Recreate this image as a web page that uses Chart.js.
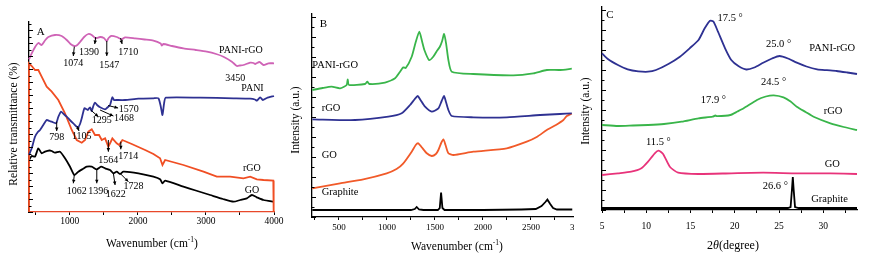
<!DOCTYPE html>
<html lang="en">
<head>
<meta charset="UTF-8">
<title>FTIR / Raman / XRD</title>
<script src="https://cdn.jsdelivr.net/npm/chart.js"></script>
<style>
  body { margin: 0; background: #fff; }
  #wrap { position: relative; width: 875px; height: 258px; overflow: hidden; }
  canvas { position: absolute; top: 0; }
  #cA { left: 0; }
  #cB { left: 290px; }
  #cC { left: 574px; background: #fff; }
</style>
</head>
<body>
<div id="wrap">
  <canvas id="cA" width="290" height="258"></canvas>
  <canvas id="cB" width="310" height="258"></canvas>
  <canvas id="cC" width="301" height="258"></canvas>
</div>
<script>
// ---- A: FTIR (wavenumber, relative transmittance a.u.)
const ftirPaniRgo = [[400,152.7],[440,158.7],[490,165],[537,169],[586,167],[640,172],[684,175],[782,177],[880,176],[954,172],[1010,168],[1066,166],[1110,167],[1150,170],[1210,175],[1272,178],[1322,177],[1380,173.7],[1444,175],[1500,174],[1542,171],[1570,174],[1606,176],[1689,175],[1763,172.7],[1812,174.7],[1959,173.7],[2100,172.5],[2228,171.3],[2335,168.5],[2351,166.5],[2375,168],[2500,166],[2669,163.7],[2850,162],[3013,160.3],[3150,158],[3257,155.3],[3381,150.3],[3454,146],[3500,146.5],[3551,147],[3650,149.3],[3700,149],[3724,148],[3787,150],[3846,147],[3919,148.7],[4000,148.7]];
const ftirPani = [[400,57],[440,63.7],[488,75.3],[530,80],[562,82],[610,87],[660,92],[700,91],[734,90.3],[797,88.7],[830,95],[870,100.3],[910,98],[954,95.3],[1000,92],[1051,88.7],[1116,84.7],[1150,88],[1175,93.7],[1213,103.7],[1240,103],[1263,102],[1297,104.7],[1322,101],[1345,106],[1370,109.3],[1400,107],[1444,104.7],[1518,102.7],[1560,105],[1591,107],[1625,114.7],[1650,112],[1675,112],[1812,112],[2008,113.3],[2228,113.7],[2302,113.7],[2337,105.3],[2361,97],[2385,108.7],[2410,114.3],[2915,114.3],[3405,113.7],[3650,113.3],[3720,112.5],[3748,111.3],[3797,114.7],[3836,112],[3895,114],[4000,116]];
const ftirRgo = [[400,0],[400,148.7],[440,146],[488,142],[537,142],[586,135.3],[660,125.3],[734,120.3],[831,112],[929,98.7],[1028,82],[1101,72],[1175,69.3],[1224,72],[1272,80.3],[1322,82.7],[1370,77],[1429,77],[1469,72],[1518,73.7],[1566,65.3],[1600,70],[1625,73.7],[1689,68.7],[1724,67],[1772,72],[1910,68],[2106,62],[2228,58],[2326,53.7],[2361,47],[2400,52],[2669,47],[2964,40.3],[3160,35.3],[3356,35.3],[3551,33.7],[3650,35.3],[3748,32.7],[3846,32],[3990,31.3],[3995,0]];
const ftirGo = [[400,52],[440,56],[488,55.3],[537,63.7],[586,58.7],[635,60.3],[700,61.5],[734,61],[782,59.3],[856,60.3],[929,53.7],[1003,45.3],[1066,37],[1125,40.3],[1190,43],[1248,45.3],[1322,45.3],[1395,42.7],[1459,45.3],[1518,43.7],[1591,42],[1640,38.7],[1689,40.3],[1738,38],[1787,40.3],[2008,38.7],[2228,35.3],[2326,32.7],[2361,28.7],[2400,31.3],[2669,25.3],[2850,21.5],[3062,17],[3250,13],[3405,10.3],[3503,12],[3601,13.7],[3675,17],[3748,14.7],[3846,12],[4000,10.3]];
const ftirTicks = [500,1000,1500,2000,2500,3000,3500,4000];

// ---- B: Raman (wavenumber, intensity a.u.)
const ramanPaniRgo = [[223,127],[330,129],[425,130.3],[512,128.7],[581,132],[592,137.7],[605,132],[772,133],[796,135.3],[817,133],[980,134.3],[1085,138.7],[1137,145.3],[1171,149.7],[1196,149],[1258,160.3],[1300,175],[1338,185.3],[1365,176],[1390,167],[1439,157],[1480,160],[1520,166],[1550,170],[1575,176],[1595,183],[1616,173.7],[1640,157],[1675,145.3],[1900,143],[2317,141.7],[2525,143.7],[2665,147],[2803,147],[2925,148.3]];
const ramanRgo = [[223,97.7],[668,97],[1015,100.3],[1154,103.7],[1241,112],[1290,118],[1321,121],[1350,117],[1397,110.3],[1467,105.3],[1536,108.7],[1570,116],[1595,121],[1615,115],[1640,107],[1675,101],[1900,99.7],[2248,99.7],[2595,102],[2800,103],[2925,103.7]];
const ramanGo = [[223,28.7],[512,33.7],[754,37.7],[998,43.7],[1100,48],[1171,53.7],[1258,65.3],[1300,72],[1327,73.7],[1360,70],[1415,63.7],[1467,61],[1510,63],[1536,67],[1565,74],[1588,77.7],[1610,72],[1640,63.7],[1692,62],[1900,65.3],[2248,68.7],[2456,75.3],[2560,80],[2665,87],[2760,92],[2838,97],[2873,101],[2925,103.5]];
const ramanGraphite = [[223,7],[800,7],[1250,7],[1290,8],[1310,10],[1335,7.5],[1380,7],[1530,7],[1550,9],[1564,24.5],[1578,9],[1600,7],[2000,7],[2400,7.5],[2550,8],[2610,11],[2650,15],[2671,17.5],[2700,13],[2730,9],[2770,7.5],[2930,7.5]];
const ramanTicks = [250,500,750,1000,1250,1500,1750,2000,2250,2500,2750,3000];

// ---- C: XRD (2 theta, intensity a.u.)
const xrdPaniRgo = [[5,156.7],[5.7,150.7],[6.8,145],[7.9,140.7],[9.1,138.7],[10.2,138.3],[11.1,140],[12.5,146],[13.8,153.3],[14.9,161.7],[15.9,170],[16.6,181.7],[17.2,189.3],[17.6,188.3],[18.1,178.3],[18.9,161.7],[19.6,150],[20.4,144],[21.3,140.5],[22.2,142.5],[23.2,147.3],[24.2,151.5],[25.05,154],[26,151.5],[27,147.3],[28.1,143.5],[29.3,140.7],[30.4,139.8],[31.5,139],[32.7,137.5],[33.8,136]];
const xrdRgo = [[5,85],[6.8,84],[8.5,84.5],[10.2,85],[12,86],[14,88.3],[15.9,91.7],[17.5,93.3],[17.8,94.5],[18,93.8],[19.5,95],[20.3,98.5],[21,101.7],[22.5,110],[23.5,113.5],[24.4,114.7],[25.5,112.7],[26.3,108.5],[27,103.3],[28,98],[28.9,93.3],[30.8,86.7],[32.3,83],[33.8,80]];
const xrdGo = [[5,35],[6.8,36.7],[8.3,38.3],[9.45,41.7],[10.2,48.3],[10.96,56.7],[11.4,59.3],[11.9,56],[12.66,43.3],[13.6,37.3],[15.9,36],[19.6,36.7],[23.2,37.3],[27,36.7],[30.8,36.7],[33.8,36]];
const xrdGraphite = [[5,2],[26,2],[26.3,3],[26.45,20],[26.55,33],[26.65,20],[26.8,3],[27.2,2],[33.8,2]];
const xrdTicks = [5,7.5,10,12.5,15,17.5,20,22.5,25,27.5,30,32.5];

const SERIF = '"Liberation Serif", "Times New Roman", serif';

// text labels and arrows, anchored in data units
const ftirLabels = [['A',572,180.3],['1074',1051,148.7],['1390',1282,159.7],['1547',1581,146.3],['1710',1860,159.7],['PANI-rGO',3513,162],['3450',3429,133.7],['PANI',3684,123.7],['1570',1866,103],['1295',1469,92],['1468',1797,93.7],['798',807,74.7],['1105',1175,75.3],['1564',1566,52],['1714',1860,55.3],['rGO',3675,43.7],['1062',1101,20.3],['1396',1419,20.3],['1622',1675,18],['1728',1934,25.3],['GO',3675,21.3]];
const ftirArrows = [[1066,165.3,1051,156],[1381,175,1366,168],[1543,171,1543,156],[1746,174,1768,168],[807,90.3,807,81],[1106,86,1135,81],[1307,102,1419,95.3],[1444,102,1640,96],[1562,106.5,1709,104],[1566,72,1566,60.3],[1749,70.3,1749,62.7],[1066,37,1051,28.7],[1396,42.7,1396,28.7],[1640,38.7,1665,27],[1738,38.7,1860,30.3]];
const ramanLabels = [['B',338,193],['PANI-rGO',223,152,'left'],['rGO',321,108.7,'left'],['GO',321,61.3,'left'],['Graphite',321,24.3,'left']];
const xrdLabels = [['C',5.9,195],['17.5 °',19.48,191.7],['25.0 °',24.94,165.7],['PANI-rGO',31.0,161.7],['24.5 °',24.38,127.7],['17.9 °',17.59,110],['rGO',31.1,98.3],['11.5 °',11.37,67.7],['GO',31.0,45.7],['26.6 °',24.57,24],['Graphite',30.7,10.7]];

function drawPieces(ctx, pieces, cx, cy) {
  let w = 0;
  pieces.forEach(p => { ctx.font = p[1]; w += ctx.measureText(p[0]).width; });
  let x = cx - w / 2;
  ctx.textAlign = 'left';
  pieces.forEach(p => {
    ctx.font = p[1];
    ctx.fillText(p[0], x, cy + (p[2] || 0));
    x += ctx.measureText(p[0]).width;
  });
}

function decor(o) {
  return {
    id: 'decor',
    afterDraw(chart) {
      const ctx = chart.ctx, xs = chart.scales.x, ys = chart.scales.y, area = chart.chartArea;
      ctx.save();
      ctx.strokeStyle = '#000';
      ctx.fillStyle = '#000';
      ctx.lineWidth = 1;
      // inward ticks on the left axis
      let i = 0;
      for (let v = 0; v <= ys.max + 0.01; v += o.yStep, i++) {
        const py = Math.round(ys.getPixelForValue(v)) + 0.5;
        ctx.beginPath();
        ctx.moveTo(area.left, py);
        ctx.lineTo(area.left + (i % 2 ? 2.5 : 4), py);
        ctx.stroke();
      }
      (o.arrows || []).forEach(([x1, y1, x2, y2]) => {
        const a = xs.getPixelForValue(x1), b = ys.getPixelForValue(y1);
        const c = xs.getPixelForValue(x2), d = ys.getPixelForValue(y2);
        ctx.beginPath(); ctx.moveTo(a, b); ctx.lineTo(c, d); ctx.stroke();
        const ang = Math.atan2(d - b, c - a), h = 4;
        ctx.beginPath();
        ctx.moveTo(c, d);
        ctx.lineTo(c - h * Math.cos(ang - 0.45), d - h * Math.sin(ang - 0.45));
        ctx.lineTo(c - h * Math.cos(ang + 0.45), d - h * Math.sin(ang + 0.45));
        ctx.closePath(); ctx.fill();
      });
      ctx.textBaseline = 'middle';
      o.labels.forEach(([t, xv, yv, al]) => {
        ctx.font = (t.length === 1 ? '11px ' : o.labelSize + 'px ') + SERIF;
        ctx.textAlign = al || 'center';
        ctx.fillText(t, xs.getPixelForValue(xv), ys.getPixelForValue(yv));
      });
      // axis titles
      drawPieces(ctx, o.xTitle, o.xTitlePos[0], o.xTitlePos[1]);
      ctx.translate(o.yTitlePos[0], o.yTitlePos[1]);
      ctx.rotate(-Math.PI / 2);
      ctx.font = '11.5px ' + SERIF;
      ctx.textAlign = 'center';
      ctx.fillText(o.yTitle, 0, 0);
      ctx.restore();
    }
  };
}

function makeChart(id, o) {
  return new Chart(document.getElementById(id), {
    type: 'line',
    data: {
      datasets: o.series.map(s => ({
        data: s[0].map(([x, y]) => ({ x, y })),
        borderColor: s[1],
        borderWidth: 1.8,
        pointRadius: 0,
        tension: s[2] ?? 0.2,
        clip: 4
      }))
    },
    options: {
      responsive: false,
      animation: false,
      events: [],
      layout: { padding: o.pad },
      plugins: { legend: { display: false }, tooltip: { enabled: false } },
      scales: {
        x: {
          type: 'linear', min: o.xMin, max: o.xMax,
          afterBuildTicks: s => { s.ticks = o.ticks.map(v => ({ value: v })); },
          afterFit: s => { s.height = o.xH; },
          border: { color: o.xBorder || '#000', width: 1.3 },
          grid: { drawOnChartArea: false, tickLength: 3, tickColor: '#000' },
          ticks: {
            font: { family: SERIF, size: o.tickSize }, color: '#000', padding: o.tickPad,
            maxRotation: 0, autoSkip: false,
            callback: v => (Math.abs(v % o.major) < 1e-6 ? String(v) : '')
          }
        },
        y: {
          type: 'linear', min: 0, max: o.yMax,
          afterFit: s => { s.width = o.yW; },
          border: { color: '#000', width: 1.3 },
          grid: { display: false },
          ticks: { display: false }
        }
      }
    },
    plugins: [decor(o)]
  });
}

const f115 = '11.5px ' + SERIF, fSup = '7.5px ' + SERIF;
const wavenumberTitle = [['Wavenumber (cm', f115], ['-1', fSup, -4], [')', f115]];

makeChart('cA', {
  series: [[ftirPaniRgo, '#cf63b6'], [ftirPani, '#2e3192'], [ftirRgo, '#f04e23', 0], [ftirGo, '#000']],
  xMin: 400, xMax: 4000, ticks: ftirTicks, major: 1000, yMax: 190, yStep: 6.5,
  pad: { left: 0, top: 22, right: 16, bottom: 0 }, yW: 29, xH: 46,
  tickSize: 9.5, tickPad: 1, xBorder: '#e8482a',
  labels: ftirLabels, arrows: ftirArrows, labelSize: 10,
  xTitle: wavenumberTitle, xTitlePos: [152, 244],
  yTitle: 'Relative transmittance (%)', yTitlePos: [13.5, 124]
});

makeChart('cB', {
  series: [[ramanPaniRgo, '#39b54a'], [ramanRgo, '#2e3192'], [ramanGo, '#f15a29'], [ramanGraphite, '#000', 0]],
  xMin: 220, xMax: 3000, ticks: ramanTicks, major: 500, yMax: 203, yStep: 10,
  pad: { left: 0, top: 14, right: 21, bottom: 0 }, yW: 22, xH: 41,
  tickSize: 9, tickPad: 2,
  labels: ramanLabels, labelSize: 10.5,
  xTitle: wavenumberTitle, xTitlePos: [167, 247],
  yTitle: 'Intensity (a.u.)', yTitlePos: [6, 120]
});

makeChart('cC', {
  series: [[xrdPaniRgo, '#2e3192'], [xrdRgo, '#39b54a'], [xrdGo, '#e8337a'], [xrdGraphite, '#000', 0]],
  xMin: 5, xMax: 33.8, ticks: xrdTicks, major: 5, yMax: 203, yStep: 10,
  pad: { left: 0, top: 7, right: 18, bottom: 0 }, yW: 28, xH: 48,
  tickSize: 9.5, tickPad: 8,
  labels: xrdLabels, labelSize: 10.5,
  xTitle: [['2', '12px ' + SERIF], ['θ', 'italic 12px ' + SERIF], ['(degree)', '12px ' + SERIF]], xTitlePos: [159, 246],
  yTitle: 'Intensity (a.u.)', yTitlePos: [11.5, 111]
});
</script>
</body>
</html>
